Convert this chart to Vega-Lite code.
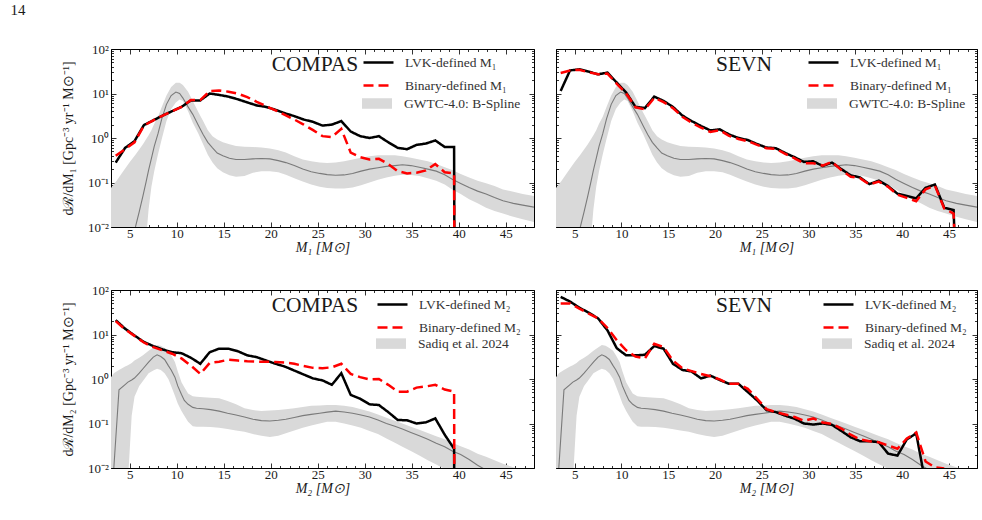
{
  "$schema": "https://vega.github.io/schema/vega-lite/v6.json",
  "padding": {"left": 10, "top": 3, "right": 4, "bottom": 4},
  "title": {"text": "14", "anchor": "start", "frame": "bounds", "fontSize": 15, "font": "Liberation Serif", "fontWeight": "normal", "color": "#1a1a1a", "dx": -51, "offset": 25},
  "datasets": {
    "gwtc": [
      {"m":3.0,"lo":0.001,"med":0.00001,"hi":0.075},{"m":3.6,"lo":0.001,"med":0.0001,"hi":0.11},{"m":4.3,"lo":0.001,"med":0.0006,"hi":0.18},
      {"m":5.0,"lo":0.001,"med":0.0035,"hi":0.29},{"m":5.6,"lo":0.001,"med":0.01,"hi":0.42},{"m":6.0,"lo":0.001,"med":0.022,"hi":0.55},
      {"m":6.4,"lo":0.001,"med":0.05,"hi":0.72},{"m":6.75,"lo":0.006,"med":0.107,"hi":0.95},{"m":7.0,"lo":0.025,"med":0.19,"hi":1.15},
      {"m":7.3,"lo":0.08,"med":0.35,"hi":1.5},{"m":7.6,"lo":0.18,"med":0.65,"hi":2.1},{"m":8.0,"lo":0.43,"med":1.25,"hi":3.0},
      {"m":8.4,"lo":0.95,"med":2.7,"hi":5.0},{"m":8.9,"lo":2.4,"med":5.7,"hi":9.0},{"m":9.4,"lo":4.5,"med":9.0,"hi":14},
      {"m":9.9,"lo":6.3,"med":10.8,"hi":17.5},{"m":10.3,"lo":7.3,"med":10.0,"hi":17.5},{"m":10.65,"lo":6.8,"med":7.9,"hi":15.5},
      {"m":11.2,"lo":4.0,"med":5.0,"hi":11},{"m":11.7,"lo":2.2,"med":3.4,"hi":6.8},{"m":12.3,"lo":1.25,"med":1.9,"hi":3.8},
      {"m":12.8,"lo":0.72,"med":1.2,"hi":2.4},{"m":13.3,"lo":0.42,"med":0.8,"hi":1.5},{"m":13.8,"lo":0.28,"med":0.6,"hi":1.1},
      {"m":14.3,"lo":0.21,"med":0.46,"hi":0.92},{"m":14.9,"lo":0.17,"med":0.4,"hi":0.8},{"m":15.6,"lo":0.145,"med":0.35,"hi":0.72},
      {"m":16.3,"lo":0.135,"med":0.33,"hi":0.66},{"m":17.2,"lo":0.14,"med":0.33,"hi":0.64},{"m":18.1,"lo":0.165,"med":0.34,"hi":0.63},
      {"m":19.0,"lo":0.18,"med":0.345,"hi":0.61},{"m":19.9,"lo":0.18,"med":0.34,"hi":0.58},{"m":20.8,"lo":0.17,"med":0.31,"hi":0.53},
      {"m":21.6,"lo":0.15,"med":0.28,"hi":0.47},{"m":22.5,"lo":0.125,"med":0.24,"hi":0.39},{"m":23.4,"lo":0.105,"med":0.2,"hi":0.33},
      {"m":24.3,"lo":0.09,"med":0.175,"hi":0.3},{"m":25.2,"lo":0.08,"med":0.16,"hi":0.28},{"m":26.0,"lo":0.075,"med":0.15,"hi":0.275},
      {"m":26.9,"lo":0.073,"med":0.145,"hi":0.28},{"m":27.8,"lo":0.073,"med":0.148,"hi":0.3},{"m":28.7,"lo":0.077,"med":0.16,"hi":0.33},
      {"m":29.6,"lo":0.087,"med":0.18,"hi":0.36},{"m":30.5,"lo":0.1,"med":0.2,"hi":0.39},{"m":31.4,"lo":0.115,"med":0.215,"hi":0.41},
      {"m":32.3,"lo":0.13,"med":0.23,"hi":0.41},{"m":33.2,"lo":0.142,"med":0.24,"hi":0.41},{"m":34.0,"lo":0.15,"med":0.25,"hi":0.39},
      {"m":34.9,"lo":0.148,"med":0.24,"hi":0.36},{"m":35.8,"lo":0.14,"med":0.22,"hi":0.33},{"m":36.7,"lo":0.125,"med":0.2,"hi":0.3},
      {"m":37.6,"lo":0.11,"med":0.18,"hi":0.26},{"m":38.5,"lo":0.09,"med":0.15,"hi":0.22},{"m":39.3,"lo":0.07,"med":0.118,"hi":0.19},
      {"m":40.2,"lo":0.055,"med":0.095,"hi":0.155},{"m":41.1,"lo":0.042,"med":0.077,"hi":0.13},{"m":42.0,"lo":0.034,"med":0.064,"hi":0.11},
      {"m":42.9,"lo":0.027,"med":0.055,"hi":0.096},{"m":43.8,"lo":0.023,"med":0.046,"hi":0.083},{"m":44.7,"lo":0.02,"med":0.039,"hi":0.07},
      {"m":45.8,"lo":0.017,"med":0.034,"hi":0.062},{"m":46.8,"lo":0.015,"med":0.031,"hi":0.055},{"m":48.0,"lo":0.013,"med":0.028,"hi":0.05}
    ],
    "sadiq": [
      {"m":3.0,"lo":0.0003,"med":0.001,"hi":1.1},{"m":3.3,"lo":0.0003,"med":0.01,"hi":1.35},{"m":3.85,"lo":0.0003,"med":0.57,"hi":1.6},
      {"m":4.5,"lo":0.0003,"med":0.75,"hi":1.9},{"m":4.8,"lo":0.005,"med":0.85,"hi":2.05},{"m":5.2,"lo":0.15,"med":0.95,"hi":2.3},
      {"m":5.5,"lo":0.4,"med":1.05,"hi":2.6},{"m":6.0,"lo":0.7,"med":1.35,"hi":3.0},{"m":6.4,"lo":0.9,"med":1.7,"hi":3.4},
      {"m":7.0,"lo":1.35,"med":2.4,"hi":4.3},{"m":7.5,"lo":1.55,"med":3.1,"hi":5.1},{"m":7.9,"lo":1.7,"med":3.5,"hi":5.8},
      {"m":8.3,"lo":1.6,"med":3.2,"hi":5.6},{"m":8.7,"lo":1.35,"med":2.75,"hi":5.0},{"m":9.1,"lo":1.0,"med":2.0,"hi":4.3},
      {"m":9.4,"lo":0.7,"med":1.6,"hi":3.4},{"m":9.8,"lo":0.42,"med":1.1,"hi":2.4},{"m":10.1,"lo":0.28,"med":0.7,"hi":1.5},
      {"m":10.5,"lo":0.19,"med":0.45,"hi":0.85},{"m":10.8,"lo":0.15,"med":0.33,"hi":0.65},{"m":11.2,"lo":0.11,"med":0.27,"hi":0.47},
      {"m":11.7,"lo":0.087,"med":0.23,"hi":0.41},{"m":12.1,"lo":0.085,"med":0.22,"hi":0.4},{"m":12.8,"lo":0.085,"med":0.215,"hi":0.39},
      {"m":13.6,"lo":0.083,"med":0.205,"hi":0.38},{"m":14.5,"lo":0.08,"med":0.19,"hi":0.37},{"m":15.4,"lo":0.075,"med":0.17,"hi":0.32},
      {"m":16.3,"lo":0.07,"med":0.155,"hi":0.27},{"m":17.2,"lo":0.065,"med":0.14,"hi":0.22},{"m":18.1,"lo":0.058,"med":0.125,"hi":0.2},
      {"m":19.0,"lo":0.053,"med":0.116,"hi":0.19},{"m":19.9,"lo":0.05,"med":0.114,"hi":0.195},{"m":20.8,"lo":0.053,"med":0.118,"hi":0.2},
      {"m":21.6,"lo":0.06,"med":0.125,"hi":0.21},{"m":22.5,"lo":0.07,"med":0.137,"hi":0.22},{"m":23.4,"lo":0.08,"med":0.15,"hi":0.235},
      {"m":24.3,"lo":0.09,"med":0.16,"hi":0.25},{"m":25.2,"lo":0.1,"med":0.17,"hi":0.255},{"m":26.0,"lo":0.11,"med":0.18,"hi":0.26},
      {"m":26.9,"lo":0.11,"med":0.19,"hi":0.26},{"m":27.8,"lo":0.1,"med":0.182,"hi":0.25},{"m":28.7,"lo":0.09,"med":0.17,"hi":0.235},
      {"m":29.6,"lo":0.08,"med":0.155,"hi":0.21},{"m":30.5,"lo":0.068,"med":0.14,"hi":0.185},{"m":31.4,"lo":0.058,"med":0.12,"hi":0.16},
      {"m":32.3,"lo":0.046,"med":0.1,"hi":0.135},{"m":33.2,"lo":0.037,"med":0.087,"hi":0.115},{"m":34.0,"lo":0.03,"med":0.075,"hi":0.1},
      {"m":34.9,"lo":0.024,"med":0.063,"hi":0.085},{"m":35.8,"lo":0.019,"med":0.053,"hi":0.072},{"m":36.7,"lo":0.015,"med":0.044,"hi":0.061},
      {"m":37.6,"lo":0.012,"med":0.036,"hi":0.052},{"m":38.5,"lo":0.0095,"med":0.03,"hi":0.044},{"m":39.3,"lo":0.0075,"med":0.024,"hi":0.037},
      {"m":40.2,"lo":0.006,"med":0.02,"hi":0.031},{"m":41.1,"lo":0.0048,"med":0.0155,"hi":0.026},{"m":42.0,"lo":0.0038,"med":0.0115,"hi":0.021},
      {"m":42.9,"lo":0.003,"med":0.009,"hi":0.018},{"m":43.8,"lo":0.0025,"med":0.0072,"hi":0.015},{"m":44.7,"lo":0.002,"med":0.0058,"hi":0.0125},
      {"m":45.8,"lo":0.0016,"med":0.0046,"hi":0.0104},{"m":46.8,"lo":0.0013,"med":0.0038,"hi":0.0088},{"m":48.0,"lo":0.001,"med":0.003,"hi":0.0074}
    ],
    "compas_m1": [
      {"m":3.5,"series":"LVK-defined M₁","rate":0.28},{"m":4.5,"series":"LVK-defined M₁","rate":0.6},{"m":5.5,"series":"LVK-defined M₁","rate":0.85},
      {"m":6.5,"series":"LVK-defined M₁","rate":1.95},{"m":7.5,"series":"LVK-defined M₁","rate":2.5},{"m":8.5,"series":"LVK-defined M₁","rate":3.2},
      {"m":9.5,"series":"LVK-defined M₁","rate":4.0},{"m":10.5,"series":"LVK-defined M₁","rate":5.0},{"m":11.5,"series":"LVK-defined M₁","rate":7.0},
      {"m":12.5,"series":"LVK-defined M₁","rate":7.0},{"m":13.5,"series":"LVK-defined M₁","rate":10.0},{"m":14.5,"series":"LVK-defined M₁","rate":9.3},
      {"m":15.5,"series":"LVK-defined M₁","rate":8.5},{"m":16.5,"series":"LVK-defined M₁","rate":7.4},{"m":17.5,"series":"LVK-defined M₁","rate":6.3},
      {"m":18.5,"series":"LVK-defined M₁","rate":5.4},{"m":19.5,"series":"LVK-defined M₁","rate":5.0},{"m":20.5,"series":"LVK-defined M₁","rate":4.3},
      {"m":21.5,"series":"LVK-defined M₁","rate":3.6},{"m":22.5,"series":"LVK-defined M₁","rate":3.1},{"m":23.5,"series":"LVK-defined M₁","rate":2.6},
      {"m":24.5,"series":"LVK-defined M₁","rate":2.3},{"m":25.5,"series":"LVK-defined M₁","rate":1.9},{"m":26.5,"series":"LVK-defined M₁","rate":2.0},
      {"m":27.5,"series":"LVK-defined M₁","rate":2.4},{"m":28.5,"series":"LVK-defined M₁","rate":1.4},{"m":29.5,"series":"LVK-defined M₁","rate":1.1},
      {"m":30.5,"series":"LVK-defined M₁","rate":1.0},{"m":31.5,"series":"LVK-defined M₁","rate":1.1},{"m":32.5,"series":"LVK-defined M₁","rate":0.8},
      {"m":33.5,"series":"LVK-defined M₁","rate":0.6},{"m":34.5,"series":"LVK-defined M₁","rate":0.56},{"m":35.5,"series":"LVK-defined M₁","rate":0.7},
      {"m":36.5,"series":"LVK-defined M₁","rate":0.75},{"m":37.5,"series":"LVK-defined M₁","rate":0.88},{"m":38.5,"series":"LVK-defined M₁","rate":0.63},
      {"m":39.5,"series":"LVK-defined M₁","rate":0.63},{"m":39.55,"series":"LVK-defined M₁","rate":0.0001},
      {"m":3.5,"series":"Binary-defined M₁","rate":0.4},{"m":4.5,"series":"Binary-defined M₁","rate":0.56},{"m":5.5,"series":"Binary-defined M₁","rate":0.8},
      {"m":6.5,"series":"Binary-defined M₁","rate":1.9},{"m":7.5,"series":"Binary-defined M₁","rate":2.5},{"m":8.5,"series":"Binary-defined M₁","rate":3.2},
      {"m":9.5,"series":"Binary-defined M₁","rate":4.0},{"m":10.5,"series":"Binary-defined M₁","rate":5.0},{"m":11.5,"series":"Binary-defined M₁","rate":7.1},
      {"m":12.5,"series":"Binary-defined M₁","rate":7.1},{"m":13.5,"series":"Binary-defined M₁","rate":11.4},{"m":14.5,"series":"Binary-defined M₁","rate":11.7},
      {"m":15.5,"series":"Binary-defined M₁","rate":11.0},{"m":16.5,"series":"Binary-defined M₁","rate":9.9},{"m":17.5,"series":"Binary-defined M₁","rate":8.3},
      {"m":18.5,"series":"Binary-defined M₁","rate":6.5},{"m":19.5,"series":"Binary-defined M₁","rate":5.2},{"m":20.5,"series":"Binary-defined M₁","rate":4.2},
      {"m":21.5,"series":"Binary-defined M₁","rate":3.3},{"m":22.5,"series":"Binary-defined M₁","rate":2.6},{"m":23.5,"series":"Binary-defined M₁","rate":2.0},
      {"m":24.5,"series":"Binary-defined M₁","rate":1.5},{"m":25.5,"series":"Binary-defined M₁","rate":1.1},{"m":26.5,"series":"Binary-defined M₁","rate":1.05},
      {"m":27.5,"series":"Binary-defined M₁","rate":1.6},{"m":28.5,"series":"Binary-defined M₁","rate":0.47},{"m":29.5,"series":"Binary-defined M₁","rate":0.37},
      {"m":30.5,"series":"Binary-defined M₁","rate":0.33},{"m":31.5,"series":"Binary-defined M₁","rate":0.34},{"m":32.5,"series":"Binary-defined M₁","rate":0.26},
      {"m":33.5,"series":"Binary-defined M₁","rate":0.18},{"m":34.5,"series":"Binary-defined M₁","rate":0.16},{"m":35.5,"series":"Binary-defined M₁","rate":0.166},
      {"m":36.5,"series":"Binary-defined M₁","rate":0.187},{"m":37.5,"series":"Binary-defined M₁","rate":0.26},{"m":38.5,"series":"Binary-defined M₁","rate":0.17},
      {"m":39.5,"series":"Binary-defined M₁","rate":0.16},{"m":39.55,"series":"Binary-defined M₁","rate":0.0001}
    ],
    "sevn_m1": [
      {"m":3.5,"series":"LVK-defined M₁","rate":11.4},{"m":4.5,"series":"LVK-defined M₁","rate":33},{"m":5.5,"series":"LVK-defined M₁","rate":35},
      {"m":6.5,"series":"LVK-defined M₁","rate":31},{"m":7.5,"series":"LVK-defined M₁","rate":27},{"m":8.5,"series":"LVK-defined M₁","rate":29.5},
      {"m":9.5,"series":"LVK-defined M₁","rate":17.5},{"m":10.5,"series":"LVK-defined M₁","rate":10.5},{"m":11.5,"series":"LVK-defined M₁","rate":5.0},
      {"m":12.5,"series":"LVK-defined M₁","rate":4.7},{"m":13.5,"series":"LVK-defined M₁","rate":8.5},{"m":14.5,"series":"LVK-defined M₁","rate":6.8},
      {"m":15.5,"series":"LVK-defined M₁","rate":5.0},{"m":16.5,"series":"LVK-defined M₁","rate":3.2},{"m":17.5,"series":"LVK-defined M₁","rate":2.4},
      {"m":18.5,"series":"LVK-defined M₁","rate":1.86},{"m":19.5,"series":"LVK-defined M₁","rate":1.48},{"m":20.5,"series":"LVK-defined M₁","rate":1.57},
      {"m":21.5,"series":"LVK-defined M₁","rate":1.2},{"m":22.5,"series":"LVK-defined M₁","rate":1.0},{"m":23.5,"series":"LVK-defined M₁","rate":0.9},
      {"m":24.5,"series":"LVK-defined M₁","rate":0.73},{"m":25.5,"series":"LVK-defined M₁","rate":0.61},{"m":26.5,"series":"LVK-defined M₁","rate":0.59},
      {"m":27.5,"series":"LVK-defined M₁","rate":0.46},{"m":28.5,"series":"LVK-defined M₁","rate":0.37},{"m":29.5,"series":"LVK-defined M₁","rate":0.29},
      {"m":30.5,"series":"LVK-defined M₁","rate":0.3},{"m":31.5,"series":"LVK-defined M₁","rate":0.235},{"m":32.5,"series":"LVK-defined M₁","rate":0.28},
      {"m":33.5,"series":"LVK-defined M₁","rate":0.2},{"m":34.5,"series":"LVK-defined M₁","rate":0.145},{"m":35.5,"series":"LVK-defined M₁","rate":0.13},
      {"m":36.5,"series":"LVK-defined M₁","rate":0.092},{"m":37.5,"series":"LVK-defined M₁","rate":0.11},{"m":38.5,"series":"LVK-defined M₁","rate":0.083},
      {"m":39.5,"series":"LVK-defined M₁","rate":0.056},{"m":40.5,"series":"LVK-defined M₁","rate":0.05},{"m":41.5,"series":"LVK-defined M₁","rate":0.044},
      {"m":42.5,"series":"LVK-defined M₁","rate":0.076},{"m":43.5,"series":"LVK-defined M₁","rate":0.09},{"m":44.5,"series":"LVK-defined M₁","rate":0.027},
      {"m":45.5,"series":"LVK-defined M₁","rate":0.024},{"m":45.9,"series":"LVK-defined M₁","rate":0.0001},
      {"m":3.5,"series":"Binary-defined M₁","rate":29},{"m":4.5,"series":"Binary-defined M₁","rate":33},{"m":5.5,"series":"Binary-defined M₁","rate":34},
      {"m":6.5,"series":"Binary-defined M₁","rate":30},{"m":7.5,"series":"Binary-defined M₁","rate":27},{"m":8.5,"series":"Binary-defined M₁","rate":28},
      {"m":9.5,"series":"Binary-defined M₁","rate":16.5},{"m":10.5,"series":"Binary-defined M₁","rate":10},{"m":11.5,"series":"Binary-defined M₁","rate":4.9},
      {"m":12.5,"series":"Binary-defined M₁","rate":4.4},{"m":13.5,"series":"Binary-defined M₁","rate":8},{"m":14.5,"series":"Binary-defined M₁","rate":6.4},
      {"m":15.5,"series":"Binary-defined M₁","rate":4.7},{"m":16.5,"series":"Binary-defined M₁","rate":3.0},{"m":17.5,"series":"Binary-defined M₁","rate":2.2},
      {"m":18.5,"series":"Binary-defined M₁","rate":1.7},{"m":19.5,"series":"Binary-defined M₁","rate":1.37},{"m":20.5,"series":"Binary-defined M₁","rate":1.5},
      {"m":21.5,"series":"Binary-defined M₁","rate":1.12},{"m":22.5,"series":"Binary-defined M₁","rate":0.95},{"m":23.5,"series":"Binary-defined M₁","rate":0.85},
      {"m":24.5,"series":"Binary-defined M₁","rate":0.7},{"m":25.5,"series":"Binary-defined M₁","rate":0.59},{"m":26.5,"series":"Binary-defined M₁","rate":0.57},
      {"m":27.5,"series":"Binary-defined M₁","rate":0.44},{"m":28.5,"series":"Binary-defined M₁","rate":0.35},{"m":29.5,"series":"Binary-defined M₁","rate":0.27},
      {"m":30.5,"series":"Binary-defined M₁","rate":0.27},{"m":31.5,"series":"Binary-defined M₁","rate":0.24},{"m":32.5,"series":"Binary-defined M₁","rate":0.29},
      {"m":33.5,"series":"Binary-defined M₁","rate":0.19},{"m":34.5,"series":"Binary-defined M₁","rate":0.135},{"m":35.5,"series":"Binary-defined M₁","rate":0.125},
      {"m":36.5,"series":"Binary-defined M₁","rate":0.09},{"m":37.5,"series":"Binary-defined M₁","rate":0.105},{"m":38.5,"series":"Binary-defined M₁","rate":0.08},
      {"m":39.5,"series":"Binary-defined M₁","rate":0.053},{"m":40.5,"series":"Binary-defined M₁","rate":0.045},{"m":41.5,"series":"Binary-defined M₁","rate":0.038},
      {"m":42.5,"series":"Binary-defined M₁","rate":0.07},{"m":43.5,"series":"Binary-defined M₁","rate":0.085},{"m":44.5,"series":"Binary-defined M₁","rate":0.026},
      {"m":45.5,"series":"Binary-defined M₁","rate":0.02},{"m":45.9,"series":"Binary-defined M₁","rate":0.0001}
    ],
    "compas_m2": [
      {"m":3.5,"series":"LVK-defined M₂","rate":21},{"m":4.5,"series":"LVK-defined M₂","rate":13.5},{"m":5.5,"series":"LVK-defined M₂","rate":9.5},
      {"m":6.5,"series":"LVK-defined M₂","rate":6.8},{"m":7.5,"series":"LVK-defined M₂","rate":5.5},{"m":8.5,"series":"LVK-defined M₂","rate":4.6},
      {"m":9.5,"series":"LVK-defined M₂","rate":4.0},{"m":10.5,"series":"LVK-defined M₂","rate":3.8},{"m":11.5,"series":"LVK-defined M₂","rate":3.0},
      {"m":12.5,"series":"LVK-defined M₂","rate":2.2},{"m":13.5,"series":"LVK-defined M₂","rate":4.0},{"m":14.5,"series":"LVK-defined M₂","rate":4.8},
      {"m":15.5,"series":"LVK-defined M₂","rate":4.8},{"m":16.5,"series":"LVK-defined M₂","rate":4.2},{"m":17.5,"series":"LVK-defined M₂","rate":3.4},
      {"m":18.5,"series":"LVK-defined M₂","rate":3.1},{"m":19.5,"series":"LVK-defined M₂","rate":2.6},{"m":20.5,"series":"LVK-defined M₂","rate":2.2},
      {"m":21.5,"series":"LVK-defined M₂","rate":1.9},{"m":22.5,"series":"LVK-defined M₂","rate":1.55},{"m":23.5,"series":"LVK-defined M₂","rate":1.26},
      {"m":24.5,"series":"LVK-defined M₂","rate":1.03},{"m":25.5,"series":"LVK-defined M₂","rate":0.93},{"m":26.5,"series":"LVK-defined M₂","rate":0.74},
      {"m":27.5,"series":"LVK-defined M₂","rate":1.35},{"m":28.5,"series":"LVK-defined M₂","rate":0.44},{"m":29.5,"series":"LVK-defined M₂","rate":0.36},
      {"m":30.5,"series":"LVK-defined M₂","rate":0.27},{"m":31.5,"series":"LVK-defined M₂","rate":0.26},{"m":32.5,"series":"LVK-defined M₂","rate":0.18},
      {"m":33.5,"series":"LVK-defined M₂","rate":0.12},{"m":34.5,"series":"LVK-defined M₂","rate":0.118},{"m":35.5,"series":"LVK-defined M₂","rate":0.1},
      {"m":36.5,"series":"LVK-defined M₂","rate":0.106},{"m":37.5,"series":"LVK-defined M₂","rate":0.13},{"m":38.5,"series":"LVK-defined M₂","rate":0.056},
      {"m":39.5,"series":"LVK-defined M₂","rate":0.027},{"m":39.55,"series":"LVK-defined M₂","rate":0.0001},
      {"m":3.5,"series":"Binary-defined M₂","rate":20},{"m":4.5,"series":"Binary-defined M₂","rate":13},{"m":5.5,"series":"Binary-defined M₂","rate":9.3},
      {"m":6.5,"series":"Binary-defined M₂","rate":6.6},{"m":7.5,"series":"Binary-defined M₂","rate":5.2},{"m":8.5,"series":"Binary-defined M₂","rate":4.4},
      {"m":9.5,"series":"Binary-defined M₂","rate":3.7},{"m":10.5,"series":"Binary-defined M₂","rate":2.9},{"m":11.5,"series":"Binary-defined M₂","rate":2.0},
      {"m":12.5,"series":"Binary-defined M₂","rate":1.3},{"m":13.5,"series":"Binary-defined M₂","rate":2.3},{"m":14.5,"series":"Binary-defined M₂","rate":2.45},
      {"m":15.5,"series":"Binary-defined M₂","rate":2.7},{"m":16.5,"series":"Binary-defined M₂","rate":2.6},{"m":17.5,"series":"Binary-defined M₂","rate":2.5},
      {"m":18.5,"series":"Binary-defined M₂","rate":2.45},{"m":19.5,"series":"Binary-defined M₂","rate":2.45},{"m":20.5,"series":"Binary-defined M₂","rate":2.4},
      {"m":21.5,"series":"Binary-defined M₂","rate":2.35},{"m":22.5,"series":"Binary-defined M₂","rate":2.2},{"m":23.5,"series":"Binary-defined M₂","rate":1.95},
      {"m":24.5,"series":"Binary-defined M₂","rate":1.78},{"m":25.5,"series":"Binary-defined M₂","rate":1.75},{"m":26.5,"series":"Binary-defined M₂","rate":1.83},
      {"m":27.5,"series":"Binary-defined M₂","rate":2.2},{"m":28.5,"series":"Binary-defined M₂","rate":1.3},{"m":29.5,"series":"Binary-defined M₂","rate":1.1},
      {"m":30.5,"series":"Binary-defined M₂","rate":0.98},{"m":31.5,"series":"Binary-defined M₂","rate":1.0},{"m":32.5,"series":"Binary-defined M₂","rate":0.74},
      {"m":33.5,"series":"Binary-defined M₂","rate":0.52},{"m":34.5,"series":"Binary-defined M₂","rate":0.52},{"m":35.5,"series":"Binary-defined M₂","rate":0.64},
      {"m":36.5,"series":"Binary-defined M₂","rate":0.68},{"m":37.5,"series":"Binary-defined M₂","rate":0.74},{"m":38.5,"series":"Binary-defined M₂","rate":0.58},
      {"m":39.5,"series":"Binary-defined M₂","rate":0.52},{"m":39.55,"series":"Binary-defined M₂","rate":0.0001}
    ],
    "sevn_m2": [
      {"m":3.5,"series":"LVK-defined M₂","rate":70},{"m":4.5,"series":"LVK-defined M₂","rate":55},{"m":5.5,"series":"LVK-defined M₂","rate":40},
      {"m":6.5,"series":"LVK-defined M₂","rate":31},{"m":7.5,"series":"LVK-defined M₂","rate":23},{"m":8.5,"series":"LVK-defined M₂","rate":12.4},
      {"m":9.5,"series":"LVK-defined M₂","rate":4.9},{"m":10.5,"series":"LVK-defined M₂","rate":3.4},{"m":11.5,"series":"LVK-defined M₂","rate":3.4},
      {"m":12.5,"series":"LVK-defined M₂","rate":3.5},{"m":13.5,"series":"LVK-defined M₂","rate":5.5},{"m":14.5,"series":"LVK-defined M₂","rate":4.8},
      {"m":15.5,"series":"LVK-defined M₂","rate":2.2},{"m":16.5,"series":"LVK-defined M₂","rate":1.6},{"m":17.5,"series":"LVK-defined M₂","rate":1.47},
      {"m":18.5,"series":"LVK-defined M₂","rate":1.03},{"m":19.5,"series":"LVK-defined M₂","rate":1.19},{"m":20.5,"series":"LVK-defined M₂","rate":0.95},
      {"m":21.5,"series":"LVK-defined M₂","rate":0.78},{"m":22.5,"series":"LVK-defined M₂","rate":0.78},{"m":23.5,"series":"LVK-defined M₂","rate":0.51},
      {"m":24.5,"series":"LVK-defined M₂","rate":0.33},{"m":25.5,"series":"LVK-defined M₂","rate":0.2},{"m":26.5,"series":"LVK-defined M₂","rate":0.18},
      {"m":27.5,"series":"LVK-defined M₂","rate":0.15},{"m":28.5,"series":"LVK-defined M₂","rate":0.128},{"m":29.5,"series":"LVK-defined M₂","rate":0.1},
      {"m":30.5,"series":"LVK-defined M₂","rate":0.095},{"m":31.5,"series":"LVK-defined M₂","rate":0.1},{"m":32.5,"series":"LVK-defined M₂","rate":0.093},
      {"m":33.5,"series":"LVK-defined M₂","rate":0.068},{"m":34.5,"series":"LVK-defined M₂","rate":0.049},{"m":35.5,"series":"LVK-defined M₂","rate":0.04},
      {"m":36.5,"series":"LVK-defined M₂","rate":0.04},{"m":37.5,"series":"LVK-defined M₂","rate":0.038},{"m":38.5,"series":"LVK-defined M₂","rate":0.021},
      {"m":39.5,"series":"LVK-defined M₂","rate":0.019},{"m":40.5,"series":"LVK-defined M₂","rate":0.044},{"m":41.5,"series":"LVK-defined M₂","rate":0.06},
      {"m":42.5,"series":"LVK-defined M₂","rate":0.0045},
      {"m":3.5,"series":"Binary-defined M₂","rate":50},{"m":4.5,"series":"Binary-defined M₂","rate":50},{"m":5.5,"series":"Binary-defined M₂","rate":38},
      {"m":6.5,"series":"Binary-defined M₂","rate":29.5},{"m":7.5,"series":"Binary-defined M₂","rate":23},{"m":8.5,"series":"Binary-defined M₂","rate":14},
      {"m":9.5,"series":"Binary-defined M₂","rate":7.4},{"m":10.5,"series":"Binary-defined M₂","rate":4.4},{"m":11.5,"series":"Binary-defined M₂","rate":3.2},
      {"m":12.5,"series":"Binary-defined M₂","rate":2.9},{"m":13.5,"series":"Binary-defined M₂","rate":6.2},{"m":14.5,"series":"Binary-defined M₂","rate":5.2},
      {"m":15.5,"series":"Binary-defined M₂","rate":2.6},{"m":16.5,"series":"Binary-defined M₂","rate":1.75},{"m":17.5,"series":"Binary-defined M₂","rate":1.5},
      {"m":18.5,"series":"Binary-defined M₂","rate":1.3},{"m":19.5,"series":"Binary-defined M₂","rate":1.15},{"m":20.5,"series":"Binary-defined M₂","rate":0.98},
      {"m":21.5,"series":"Binary-defined M₂","rate":0.78},{"m":22.5,"series":"Binary-defined M₂","rate":0.78},{"m":23.5,"series":"Binary-defined M₂","rate":0.6},
      {"m":24.5,"series":"Binary-defined M₂","rate":0.36},{"m":25.5,"series":"Binary-defined M₂","rate":0.21},{"m":26.5,"series":"Binary-defined M₂","rate":0.18},
      {"m":27.5,"series":"Binary-defined M₂","rate":0.16},{"m":28.5,"series":"Binary-defined M₂","rate":0.14},{"m":29.5,"series":"Binary-defined M₂","rate":0.115},
      {"m":30.5,"series":"Binary-defined M₂","rate":0.13},{"m":31.5,"series":"Binary-defined M₂","rate":0.105},{"m":32.5,"series":"Binary-defined M₂","rate":0.098},
      {"m":33.5,"series":"Binary-defined M₂","rate":0.077},{"m":34.5,"series":"Binary-defined M₂","rate":0.056},{"m":35.5,"series":"Binary-defined M₂","rate":0.044},
      {"m":36.5,"series":"Binary-defined M₂","rate":0.04},{"m":37.5,"series":"Binary-defined M₂","rate":0.038},{"m":38.5,"series":"Binary-defined M₂","rate":0.032},
      {"m":39.5,"series":"Binary-defined M₂","rate":0.027},{"m":40.5,"series":"Binary-defined M₂","rate":0.046},{"m":41.5,"series":"Binary-defined M₂","rate":0.063},
      {"m":42.5,"series":"Binary-defined M₂","rate":0.014},{"m":43.5,"series":"Binary-defined M₂","rate":0.0103},{"m":44.5,"series":"Binary-defined M₂","rate":0.0098}
    ]
  },
  "spacing": 30,
  "resolve": {"scale": {"color": "independent", "fill": "independent", "strokeDash": "independent"}, "legend": {"color": "independent", "fill": "independent", "strokeDash": "independent"}},
  "vconcat": [
    {
      "spacing": 20,
      "resolve": {"scale": {"color": "independent", "fill": "independent", "strokeDash": "independent"}, "legend": {"color": "independent", "fill": "independent", "strokeDash": "independent"}},
      "hconcat": [
        {
          "width": 423, "height": 178,
          "resolve": {"axis": {"x": "independent", "y": "independent"}},
          "layer": [
            {
              "data": {"name": "gwtc"},
              "mark": {"type": "area", "clip": true, "opacity": 1},
              "encoding": {
                "x": {"field": "m", "type": "quantitative", "scale": {"domain": [3, 48], "nice": false, "zero": false},
                  "axis": {"orient": "bottom", "values": [5,10,15,20,25,30,35,40,45], "format": "d", "tickSize": -5, "labelPadding": 5, "labelFlush": false, "labelOverlap": false, "title": "M₁ [M⊙]", "titlePadding": 0, "titleFontStyle": "italic"}},
                "y": {"field": "lo", "type": "quantitative", "scale": {"type": "log", "domain": [0.01, 100], "nice": false},
                  "axis": {"orient": "left", "values": [0.01,0.1,1,10,100], "tickSize": -5, "labelPadding": 7.5, "labelFlush": false, "labelOverlap": false,
                    "labelExpr": "datum.value >= 100 ? '10²' : datum.value >= 10 ? '10¹' : datum.value >= 1 ? '10⁰' : datum.value >= 0.1 ? '10⁻¹' : '10⁻²'",
                    "title": "dℛ/dM₁ [Gpc⁻³ yr⁻¹ M⊙⁻¹]", "titlePadding": 12}},
                "y2": {"field": "hi"},
                "fill": {"datum": "GWTC-4.0: B-Spline", "type": "nominal",
                  "scale": {"domain": ["GWTC-4.0: B-Spline"], "range": ["#d9d9d9"]},
                  "legend": {"title": null, "orient": "none", "legendX": 251, "legendY": 39.5, "symbolType": "M-1,-0.35H1V0.35H-1Z", "symbolStrokeWidth": 0, "labelOffset": 12}}
              }
            },
            {
              "data": {"name": "gwtc"},
              "mark": {"type": "line", "clip": true, "color": "#7a7a7a", "strokeWidth": 1.1},
              "encoding": {
                "x": {"field": "m", "type": "quantitative", "axis": {"orient": "top", "values": [5,10,15,20,25,30,35,40,45], "tickSize": -5, "labels": false, "title": null}},
                "y": {"field": "med", "type": "quantitative", "axis": {"orient": "right", "values": [0.01,0.1,1,10,100], "tickSize": -5, "labels": false, "title": null}}
              }
            },
            {
              "data": {"name": "compas_m1"},
              "mark": {"type": "line", "clip": true, "strokeWidth": 2.5},
              "encoding": {
                "x": {"field": "m", "type": "quantitative", "axis": {"orient": "bottom", "values": [3,4,6,7,8,9,11,12,13,14,16,17,18,19,21,22,23,24,26,27,28,29,31,32,33,34,36,37,38,39,41,42,43,44,46,47,48], "tickSize": -2.5, "labels": false, "domain": false, "title": null}},
                "y": {"field": "rate", "type": "quantitative", "axis": {"orient": "left", "values": [0.02,0.03,0.04,0.05,0.06,0.07,0.08,0.09,0.2,0.3,0.4,0.5,0.6,0.7,0.8,0.9,2,3,4,5,6,7,8,9,20,30,40,50,60,70,80,90], "tickSize": -2.5, "labels": false, "domain": false, "title": null}},
                "color": {"field": "series", "type": "nominal",
                  "scale": {"domain": ["LVK-defined M₁", "Binary-defined M₁"], "range": ["#000000", "#ff0000"]},
                  "legend": {"title": null, "orient": "none", "legendX": 251, "legendY": -3, "labelOffset": 10}},
                "strokeDash": {"field": "series", "type": "nominal",
                  "scale": {"domain": ["LVK-defined M₁", "Binary-defined M₁"], "range": [[1, 0], [10, 5]]},
                  "legend": {"title": null, "orient": "none", "legendX": 251, "legendY": -3, "labelOffset": 10}}
              }
            },
            {
              "data": {"values": [{"code": "COMPAS"}]},
              "mark": {"type": "text", "align": "left", "baseline": "middle", "font": "Liberation Serif", "fontSize": 21.5, "color": "#1a1a1a"},
              "encoding": {
                "x": {"datum": 20.1, "type": "quantitative", "axis": {"orient": "top", "values": [3,4,6,7,8,9,11,12,13,14,16,17,18,19,21,22,23,24,26,27,28,29,31,32,33,34,36,37,38,39,41,42,43,44,46,47,48], "tickSize": -2.5, "labels": false, "domain": false, "title": null}},
                "y": {"datum": 43, "type": "quantitative", "axis": {"orient": "right", "values": [0.02,0.03,0.04,0.05,0.06,0.07,0.08,0.09,0.2,0.3,0.4,0.5,0.6,0.7,0.8,0.9,2,3,4,5,6,7,8,9,20,30,40,50,60,70,80,90], "tickSize": -2.5, "labels": false, "domain": false, "title": null}},
                "text": {"field": "code"}
              }
            }
          ]
        },
        {
          "width": 421, "height": 178,
          "resolve": {"axis": {"x": "independent", "y": "independent"}},
          "layer": [
            {
              "data": {"name": "gwtc"},
              "mark": {"type": "area", "clip": true, "opacity": 1},
              "encoding": {
                "x": {"field": "m", "type": "quantitative", "scale": {"domain": [3, 48], "nice": false, "zero": false},
                  "axis": {"orient": "bottom", "values": [5,10,15,20,25,30,35,40,45], "format": "d", "tickSize": -5, "labelPadding": 5, "labelFlush": false, "labelOverlap": false, "title": "M₁ [M⊙]", "titlePadding": 0, "titleFontStyle": "italic"}},
                "y": {"field": "lo", "type": "quantitative", "scale": {"type": "log", "domain": [0.01, 100], "nice": false},
                  "axis": {"orient": "left", "values": [0.01,0.1,1,10,100], "tickSize": -5, "labels": false, "title": null}},
                "y2": {"field": "hi"},
                "fill": {"datum": "GWTC-4.0: B-Spline", "type": "nominal",
                  "scale": {"domain": ["GWTC-4.0: B-Spline"], "range": ["#d9d9d9"]},
                  "legend": {"title": null, "orient": "none", "legendX": 251, "legendY": 39.5, "symbolType": "M-1,-0.35H1V0.35H-1Z", "symbolStrokeWidth": 0, "labelOffset": 12}}
              }
            },
            {
              "data": {"name": "gwtc"},
              "mark": {"type": "line", "clip": true, "color": "#7a7a7a", "strokeWidth": 1.1},
              "encoding": {
                "x": {"field": "m", "type": "quantitative", "axis": {"orient": "top", "values": [5,10,15,20,25,30,35,40,45], "tickSize": -5, "labels": false, "title": null}},
                "y": {"field": "med", "type": "quantitative", "axis": {"orient": "right", "values": [0.01,0.1,1,10,100], "tickSize": -5, "labels": false, "title": null}}
              }
            },
            {
              "data": {"name": "sevn_m1"},
              "mark": {"type": "line", "clip": true, "strokeWidth": 2.5},
              "encoding": {
                "x": {"field": "m", "type": "quantitative", "axis": {"orient": "bottom", "values": [3,4,6,7,8,9,11,12,13,14,16,17,18,19,21,22,23,24,26,27,28,29,31,32,33,34,36,37,38,39,41,42,43,44,46,47,48], "tickSize": -2.5, "labels": false, "domain": false, "title": null}},
                "y": {"field": "rate", "type": "quantitative", "axis": {"orient": "left", "values": [0.02,0.03,0.04,0.05,0.06,0.07,0.08,0.09,0.2,0.3,0.4,0.5,0.6,0.7,0.8,0.9,2,3,4,5,6,7,8,9,20,30,40,50,60,70,80,90], "tickSize": -2.5, "labels": false, "domain": false, "title": null}},
                "color": {"field": "series", "type": "nominal",
                  "scale": {"domain": ["LVK-defined M₁", "Binary-defined M₁"], "range": ["#000000", "#ff0000"]},
                  "legend": {"title": null, "orient": "none", "legendX": 251, "legendY": -3, "labelOffset": 10}},
                "strokeDash": {"field": "series", "type": "nominal",
                  "scale": {"domain": ["LVK-defined M₁", "Binary-defined M₁"], "range": [[1, 0], [10, 5]]},
                  "legend": {"title": null, "orient": "none", "legendX": 251, "legendY": -3, "labelOffset": 10}}
              }
            },
            {
              "data": {"values": [{"code": "SEVN"}]},
              "mark": {"type": "text", "align": "left", "baseline": "middle", "font": "Liberation Serif", "fontSize": 21.5, "color": "#1a1a1a"},
              "encoding": {
                "x": {"datum": 20.1, "type": "quantitative", "axis": {"orient": "top", "values": [3,4,6,7,8,9,11,12,13,14,16,17,18,19,21,22,23,24,26,27,28,29,31,32,33,34,36,37,38,39,41,42,43,44,46,47,48], "tickSize": -2.5, "labels": false, "domain": false, "title": null}},
                "y": {"datum": 43, "type": "quantitative", "axis": {"orient": "right", "values": [0.02,0.03,0.04,0.05,0.06,0.07,0.08,0.09,0.2,0.3,0.4,0.5,0.6,0.7,0.8,0.9,2,3,4,5,6,7,8,9,20,30,40,50,60,70,80,90], "tickSize": -2.5, "labels": false, "domain": false, "title": null}},
                "text": {"field": "code"}
              }
            }
          ]
        }
      ]
    },
    {
      "spacing": 20,
      "resolve": {"scale": {"color": "independent", "fill": "independent", "strokeDash": "independent"}, "legend": {"color": "independent", "fill": "independent", "strokeDash": "independent"}},
      "hconcat": [
        {
          "width": 423, "height": 178,
          "resolve": {"axis": {"x": "independent", "y": "independent"}},
          "layer": [
            {
              "data": {"name": "sadiq"},
              "mark": {"type": "area", "clip": true, "opacity": 1},
              "encoding": {
                "x": {"field": "m", "type": "quantitative", "scale": {"domain": [3, 48], "nice": false, "zero": false},
                  "axis": {"orient": "bottom", "values": [5,10,15,20,25,30,35,40,45], "format": "d", "tickSize": -5, "labelPadding": 5, "labelFlush": false, "labelOverlap": false, "title": "M₂ [M⊙]", "titlePadding": 0, "titleFontStyle": "italic"}},
                "y": {"field": "lo", "type": "quantitative", "scale": {"type": "log", "domain": [0.01, 100], "nice": false},
                  "axis": {"orient": "left", "values": [0.01,0.1,1,10,100], "tickSize": -5, "labelPadding": 7.5, "labelFlush": false, "labelOverlap": false,
                    "labelExpr": "datum.value >= 100 ? '10²' : datum.value >= 10 ? '10¹' : datum.value >= 1 ? '10⁰' : datum.value >= 0.1 ? '10⁻¹' : '10⁻²'",
                    "title": "dℛ/dM₂ [Gpc⁻³ yr⁻¹ M⊙⁻¹]", "titlePadding": 12}},
                "y2": {"field": "hi"},
                "fill": {"datum": "Sadiq et al. 2024", "type": "nominal",
                  "scale": {"domain": ["Sadiq et al. 2024"], "range": ["#d9d9d9"]},
                  "legend": {"title": null, "orient": "none", "legendX": 265, "legendY": 38.6, "symbolType": "M-1,-0.35H1V0.35H-1Z", "symbolStrokeWidth": 0, "labelOffset": 12}}
              }
            },
            {
              "data": {"name": "sadiq"},
              "mark": {"type": "line", "clip": true, "color": "#7a7a7a", "strokeWidth": 1.1},
              "encoding": {
                "x": {"field": "m", "type": "quantitative", "axis": {"orient": "top", "values": [5,10,15,20,25,30,35,40,45], "tickSize": -5, "labels": false, "title": null}},
                "y": {"field": "med", "type": "quantitative", "axis": {"orient": "right", "values": [0.01,0.1,1,10,100], "tickSize": -5, "labels": false, "title": null}}
              }
            },
            {
              "data": {"name": "compas_m2"},
              "mark": {"type": "line", "clip": true, "strokeWidth": 2.5},
              "encoding": {
                "x": {"field": "m", "type": "quantitative", "axis": {"orient": "bottom", "values": [3,4,6,7,8,9,11,12,13,14,16,17,18,19,21,22,23,24,26,27,28,29,31,32,33,34,36,37,38,39,41,42,43,44,46,47,48], "tickSize": -2.5, "labels": false, "domain": false, "title": null}},
                "y": {"field": "rate", "type": "quantitative", "axis": {"orient": "left", "values": [0.02,0.03,0.04,0.05,0.06,0.07,0.08,0.09,0.2,0.3,0.4,0.5,0.6,0.7,0.8,0.9,2,3,4,5,6,7,8,9,20,30,40,50,60,70,80,90], "tickSize": -2.5, "labels": false, "domain": false, "title": null}},
                "color": {"field": "series", "type": "nominal",
                  "scale": {"domain": ["LVK-defined M₂", "Binary-defined M₂"], "range": ["#000000", "#ff0000"]},
                  "legend": {"title": null, "orient": "none", "legendX": 265, "legendY": -2, "labelOffset": 10}},
                "strokeDash": {"field": "series", "type": "nominal",
                  "scale": {"domain": ["LVK-defined M₂", "Binary-defined M₂"], "range": [[1, 0], [10, 5]]},
                  "legend": {"title": null, "orient": "none", "legendX": 265, "legendY": -2, "labelOffset": 10}}
              }
            },
            {
              "data": {"values": [{"code": "COMPAS"}]},
              "mark": {"type": "text", "align": "left", "baseline": "middle", "font": "Liberation Serif", "fontSize": 21.5, "color": "#1a1a1a"},
              "encoding": {
                "x": {"datum": 20.1, "type": "quantitative", "axis": {"orient": "top", "values": [3,4,6,7,8,9,11,12,13,14,16,17,18,19,21,22,23,24,26,27,28,29,31,32,33,34,36,37,38,39,41,42,43,44,46,47,48], "tickSize": -2.5, "labels": false, "domain": false, "title": null}},
                "y": {"datum": 43, "type": "quantitative", "axis": {"orient": "right", "values": [0.02,0.03,0.04,0.05,0.06,0.07,0.08,0.09,0.2,0.3,0.4,0.5,0.6,0.7,0.8,0.9,2,3,4,5,6,7,8,9,20,30,40,50,60,70,80,90], "tickSize": -2.5, "labels": false, "domain": false, "title": null}},
                "text": {"field": "code"}
              }
            }
          ]
        },
        {
          "width": 421, "height": 178,
          "resolve": {"axis": {"x": "independent", "y": "independent"}},
          "layer": [
            {
              "data": {"name": "sadiq"},
              "mark": {"type": "area", "clip": true, "opacity": 1},
              "encoding": {
                "x": {"field": "m", "type": "quantitative", "scale": {"domain": [3, 48], "nice": false, "zero": false},
                  "axis": {"orient": "bottom", "values": [5,10,15,20,25,30,35,40,45], "format": "d", "tickSize": -5, "labelPadding": 5, "labelFlush": false, "labelOverlap": false, "title": "M₂ [M⊙]", "titlePadding": 0, "titleFontStyle": "italic"}},
                "y": {"field": "lo", "type": "quantitative", "scale": {"type": "log", "domain": [0.01, 100], "nice": false},
                  "axis": {"orient": "left", "values": [0.01,0.1,1,10,100], "tickSize": -5, "labels": false, "title": null}},
                "y2": {"field": "hi"},
                "fill": {"datum": "Sadiq et al. 2024", "type": "nominal",
                  "scale": {"domain": ["Sadiq et al. 2024"], "range": ["#d9d9d9"]},
                  "legend": {"title": null, "orient": "none", "legendX": 266, "legendY": 38.6, "symbolType": "M-1,-0.35H1V0.35H-1Z", "symbolStrokeWidth": 0, "labelOffset": 12}}
              }
            },
            {
              "data": {"name": "sadiq"},
              "mark": {"type": "line", "clip": true, "color": "#7a7a7a", "strokeWidth": 1.1},
              "encoding": {
                "x": {"field": "m", "type": "quantitative", "axis": {"orient": "top", "values": [5,10,15,20,25,30,35,40,45], "tickSize": -5, "labels": false, "title": null}},
                "y": {"field": "med", "type": "quantitative", "axis": {"orient": "right", "values": [0.01,0.1,1,10,100], "tickSize": -5, "labels": false, "title": null}}
              }
            },
            {
              "data": {"name": "sevn_m2"},
              "mark": {"type": "line", "clip": true, "strokeWidth": 2.5},
              "encoding": {
                "x": {"field": "m", "type": "quantitative", "axis": {"orient": "bottom", "values": [3,4,6,7,8,9,11,12,13,14,16,17,18,19,21,22,23,24,26,27,28,29,31,32,33,34,36,37,38,39,41,42,43,44,46,47,48], "tickSize": -2.5, "labels": false, "domain": false, "title": null}},
                "y": {"field": "rate", "type": "quantitative", "axis": {"orient": "left", "values": [0.02,0.03,0.04,0.05,0.06,0.07,0.08,0.09,0.2,0.3,0.4,0.5,0.6,0.7,0.8,0.9,2,3,4,5,6,7,8,9,20,30,40,50,60,70,80,90], "tickSize": -2.5, "labels": false, "domain": false, "title": null}},
                "color": {"field": "series", "type": "nominal",
                  "scale": {"domain": ["LVK-defined M₂", "Binary-defined M₂"], "range": ["#000000", "#ff0000"]},
                  "legend": {"title": null, "orient": "none", "legendX": 266, "legendY": -2, "labelOffset": 10}},
                "strokeDash": {"field": "series", "type": "nominal",
                  "scale": {"domain": ["LVK-defined M₂", "Binary-defined M₂"], "range": [[1, 0], [10, 5]]},
                  "legend": {"title": null, "orient": "none", "legendX": 266, "legendY": -2, "labelOffset": 10}}
              }
            },
            {
              "data": {"values": [{"code": "SEVN"}]},
              "mark": {"type": "text", "align": "left", "baseline": "middle", "font": "Liberation Serif", "fontSize": 21.5, "color": "#1a1a1a"},
              "encoding": {
                "x": {"datum": 20.1, "type": "quantitative", "axis": {"orient": "top", "values": [3,4,6,7,8,9,11,12,13,14,16,17,18,19,21,22,23,24,26,27,28,29,31,32,33,34,36,37,38,39,41,42,43,44,46,47,48], "tickSize": -2.5, "labels": false, "domain": false, "title": null}},
                "y": {"datum": 43, "type": "quantitative", "axis": {"orient": "right", "values": [0.02,0.03,0.04,0.05,0.06,0.07,0.08,0.09,0.2,0.3,0.4,0.5,0.6,0.7,0.8,0.9,2,3,4,5,6,7,8,9,20,30,40,50,60,70,80,90], "tickSize": -2.5, "labels": false, "domain": false, "title": null}},
                "text": {"field": "code"}
              }
            }
          ]
        }
      ]
    }
  ],
  "config": {
    "view": {"stroke": null},
    "font": "Liberation Serif",
    "axis": {
      "grid": false, "zindex": 1,
      "domainColor": "#000000", "domainWidth": 1,
      "tickColor": "#000000", "tickWidth": 0.8,
      "labelFont": "Liberation Serif", "labelFontSize": 13, "labelColor": "#1a1a1a",
      "titleFont": "Liberation Serif", "titleFontSize": 14, "titleFontWeight": "normal", "titleColor": "#1a1a1a"
    },
    "legend": {
      "padding": 0,
      "symbolType": "stroke", "symbolSize": 900, "symbolStrokeWidth": 2.5,
      "labelFont": "Liberation Serif", "labelFontSize": 13.5, "labelColor": "#333333", "labelLimit": 300,
      "labelOffset": 9, "rowPadding": -9
    }
  }
}
